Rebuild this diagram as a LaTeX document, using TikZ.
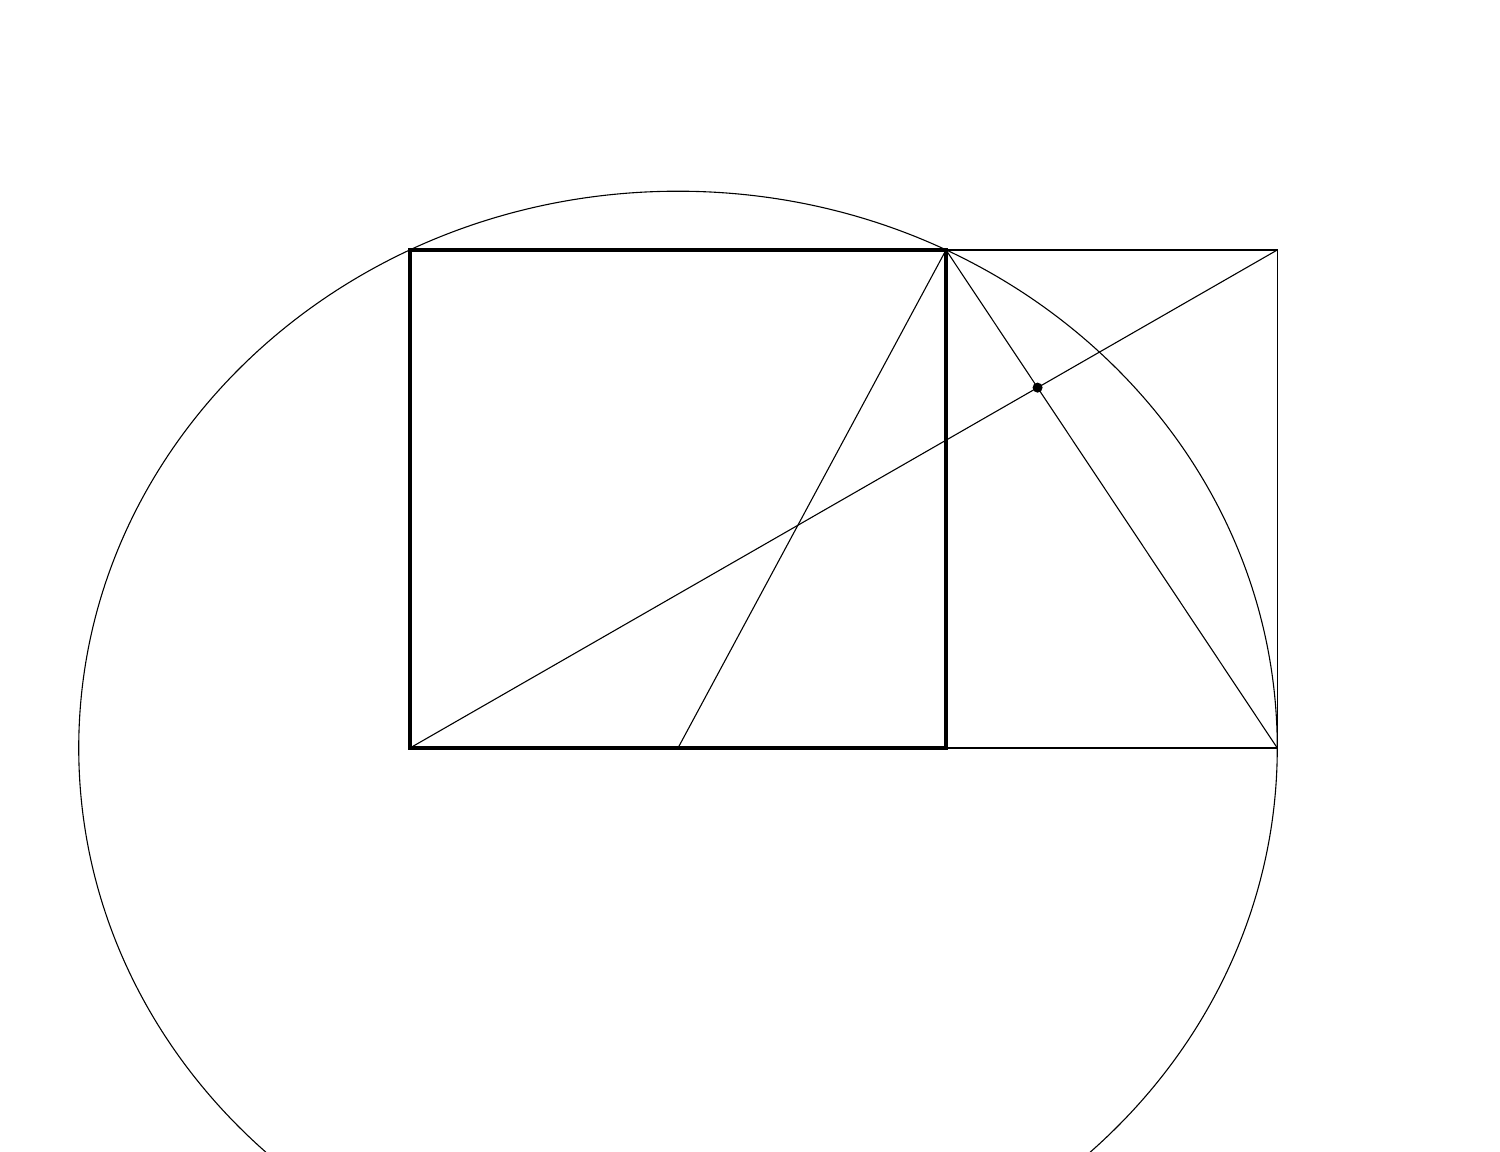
\documentclass[tikz,border=0pt]{standalone}
\begin{document}
\begin{tikzpicture}[x=3cm,y=2.78731cm,
  thin line/.style={line width=0.35pt},
  thick line/.style={line width=1pt}]
\useasboundingbox (-1.5299,-1.6225) rectangle (4.0672,3.004);
\clip (-1.5299,-1.6225) rectangle (4.0672,3.004);
\coordinate (A) at (0,0);
\coordinate (B) at (2,0);
\coordinate (C) at (2,2);
\coordinate (D) at (0,2);
\coordinate (M) at (1,0);
\coordinate (E) at (3.2360680,0);
\coordinate (F) at (3.2360680,2);
\coordinate (P) at (2.3416408,1.4472136);
\draw[thin line] (M) ellipse [x radius=2.2360680, y radius=2.2360680];
\draw[thin line] (C) -- (F) -- (E) -- (B);
\draw[thin line] (A) -- (F);
\draw[thin line] (C) -- (E);
\draw[thin line] (M) -- (C);
\draw[thick line] (A) -- (B) -- (C) -- (D) -- cycle;
\fill (P) circle [radius=1.6pt];
\end{tikzpicture}
\end{document}
